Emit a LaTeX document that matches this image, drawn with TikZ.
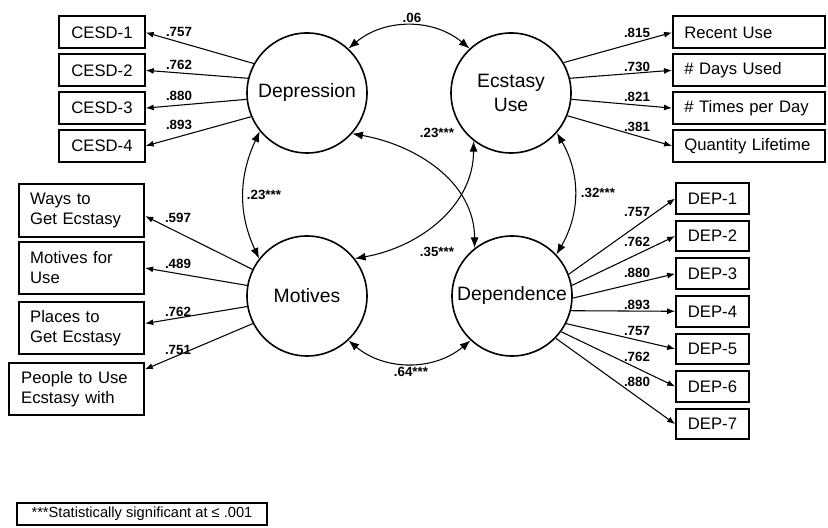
\documentclass[tikz,border=0pt]{standalone}
\usepackage{fontspec}
\setmainfont{Liberation Sans}
\usetikzlibrary{arrows.meta}
\begin{document}
\begin{tikzpicture}[x=0.75pt,y=0.75pt,
  latent/.style={circle,draw,line width=1.2pt,minimum size=90pt,inner sep=0pt,
    align=center,font=\fontsize{14.5}{17.5}\selectfont},
  indic/.style={draw,line width=1.5pt,inner sep=0pt,font=\fontsize{12.5}{15}\selectfont},
  shortbox/.style={indic,minimum width=64pt,minimum height=24pt},
  longbox/.style={indic,text width=97pt,inner xsep=8.5pt,align=left,minimum height=24pt},
  depbox/.style={indic,minimum width=54.5pt,minimum height=23pt},
  tallbox/.style={indic,text width=#1,inner xsep=8.5pt,align=left,minimum height=39.5pt},
  load/.style={-{Latex[length=6pt,width=4.5pt]},line width=0.8pt},
  corr/.style={{Latex[length=8pt,width=6pt]}-{Latex[length=8pt,width=6pt]},line width=0.8pt},
  lab/.style={font=\fontsize{10}{11}\selectfont\bfseries,inner sep=0pt}]
\useasboundingbox (0,0) rectangle (828,528);

\node[latent] (depr) at (307,435) {Depression};
\node[latent] (ecst) at (511,435) {Ecstasy\\Use};
\node[latent] (motv) at (307,232) {Motives};
\node[latent] (dpnd) at (512,232) {Dependence};

\foreach \t [count=\i] in {CESD-1,CESD-2,CESD-3,CESD-4}
  \node[shortbox] (cesd\i) at (102,533.3-37.8*\i) {\t};
\foreach \t [count=\i] in {Recent Use,\# Days Used,\# Times per Day,Quantity Lifetime}
  \node[longbox] (use\i) at (749,533.3-37.8*\i) {\t};
\foreach \i in {1,...,7}
  \node[depbox] (dp\i) at (712.5,367.1-37.6*\i) {DEP-\i};

\node[tallbox=77pt] (ways) at (81.5,317.5) {Ways to\\Get Ecstasy};
\node[tallbox=77pt] (forUse) at (81.5,260) {Motives for\\Use};
\node[tallbox=77pt] (places) at (81.5,200) {Places to\\Get Ecstasy};
\node[tallbox=83pt,inner xsep=9pt] (people) at (76.5,139) {People to Use\\Ecstasy with};

% loadings
\foreach \a/\i in {151/1,166/2,186/3,203/4}
  \draw[load] (depr.\a) -- (cesd\i.east);
\foreach \a/\i in {30/1,14/2,-6/3,-22/4}
  \draw[load] (ecst.\a) -- (use\i.west);
\foreach \a/\i in {21/1,10/2,-2/3,-14/4,-27/5,-36/6,-44/7}
  \draw[load] (dpnd.\a) -- (dp\i.west);
\draw[load] (motv.154) -- (ways.-5);
\draw[load] (motv.170) -- (forUse.east);
\draw[load] (motv.190) -- (places.4);
\draw[load] (motv.207) -- (people.16);

\foreach \v/\y [count=\i] in {.757/496,.762/463,.880/432,.893/403}
  \node[lab] (cl\i) at (179,\y) {\v};
\foreach \v/\y [count=\i] in {.815/495,.730/461,.821/431,.381/401}
  \node[lab] (ul\i) at (637,\y) {\v};
\foreach \v/\y [count=\i] in {.597/310,.489/264,.762/216,.751/178}
  \node[lab] (ml\i) at (178,\y) {\v};
\foreach \v/\y [count=\i] in {.757/316,.762/286,.880/255,.893/223,.757/197,.762/171,.880/146}
  \node[lab] (dl\i) at (637,\y) {\v};

% correlations
\draw[corr] (depr.47) to[out=40,in=140] (ecst.133);
\draw[corr] (depr.-141) to[out=-115,in=115] (motv.142);
\draw[corr] (ecst.-41) to[out=-60,in=60] (dpnd.43);
\draw[corr] (motv.-47) to[out=-40,in=-140] (dpnd.-133);
\draw[corr] (depr.-42) to[out=-10,in=90] (dpnd.128);
\draw[corr] (motv.38) to[out=10,in=-90] (ecst.-128);

\node[lab] (r1) at (412,510) {.06};
\node[lab] (r2) at (264,333) {.23***};
\node[lab] (r3) at (598,335) {.32***};
\node[lab] (r4) at (437,395) {.23***};
\node[lab] (r5) at (437,276) {.35***};
\node[lab] (r6) at (411,156) {.64***};

\node[draw,line width=1.5pt,minimum width=187pt,minimum height=16pt,inner sep=0pt,
  font=\fontsize{11}{13}\selectfont] (note) at (142,14) {***Statistically significant at ≤ .001};
\end{tikzpicture}
\end{document}
